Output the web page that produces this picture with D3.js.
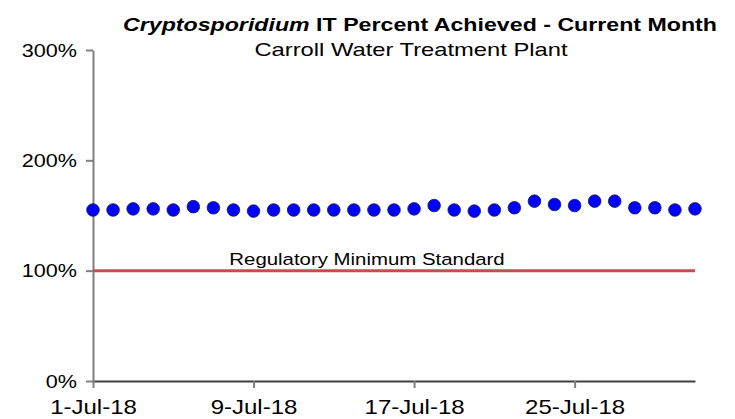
<!DOCTYPE html>
<html>
<head>
<meta charset="utf-8">
<script src="https://d3js.org/d3.v7.min.js"></script>
<style>
  body { margin: 0; background: #fff; }
  text { font-family: "Liberation Sans", Arial, sans-serif; }
</style>
</head>
<body>
<div id="chart"></div>
<script>
// daily values, July 2018
const days = d3.range(1, 32).map(d => new Date(2018, 6, d));
const percentAchieved = [155, 155, 156, 156, 155, 158, 157, 155, 154, 155,
                         155, 155, 155, 155, 155, 155, 156, 159, 155, 154,
                         155, 157, 163, 160, 159, 163, 163, 157, 157, 155, 156];
const regulatoryMin = 100;
const yTicks = [0, 100, 200, 300];
const xTickDays = [1, 9, 17, 25];

const width = 735;
const height = 419;
const margin = { top: 50, right: 40, bottom: 38, left: 93 };
const stretch = 1.2; // text in the original is drawn a bit wide

const svg = d3.select("#chart")
    .append("svg")
    .attr("width", width)
    .attr("height", height);

const x = d3.scaleTime()
    .domain([days[0], days[days.length - 1]])
    .range([margin.left, width - margin.right]);

const y = d3.scaleLinear()
    .domain([0, 300])
    .range([height - margin.bottom, margin.top]);

const fmt = d3.timeFormat("%-d-%b-%y");

// x axis
const xAxis = svg.append("g")
    .attr("transform", `translate(0,${y(0)})`)
    .call(d3.axisBottom(x)
        .tickValues(xTickDays.map(d => new Date(2018, 6, d)))
        .tickFormat(fmt)
        .tickSize(7)
        .tickSizeOuter(0));
xAxis.select(".domain").attr("stroke", "#404040").attr("stroke-width", 2);
xAxis.selectAll(".tick line").attr("stroke", "#808080").attr("stroke-width", 2);
xAxis.selectAll(".tick text")
    .attr("font-size", 20)
    .attr("fill", "#000")
    .attr("y", 33)
    .attr("dy", null)
    .attr("transform", `scale(${stretch},1)`);

// y axis
const yAxis = svg.append("g")
    .attr("transform", `translate(${margin.left},0)`)
    .call(d3.axisLeft(y)
        .tickValues(yTicks)
        .tickFormat(d => d + "%")
        .tickSize(7)
        .tickSizeOuter(0));
yAxis.select(".domain").attr("stroke", "#808080").attr("stroke-width", 2);
yAxis.selectAll(".tick line").attr("stroke", "#808080").attr("stroke-width", 2);
yAxis.selectAll(".tick text")
    .attr("font-size", 18)
    .attr("fill", "#000")
    .attr("x", -16 / stretch)
    .attr("dy", "0.34em")
    .attr("transform", `scale(${stretch},1)`);

// regulatory line
svg.append("line")
    .attr("x1", x(days[0]))
    .attr("x2", x(days[days.length - 1]))
    .attr("y1", y(regulatoryMin))
    .attr("y2", y(regulatoryMin))
    .attr("stroke", "#c0504d")
    .attr("stroke-width", 3);

svg.append("text")
    .attr("transform", `translate(367,${y(regulatoryMin) - 6}) scale(${stretch},1)`)
    .attr("text-anchor", "middle")
    .attr("font-size", 17)
    .text("Regulatory Minimum Standard");

// points
svg.selectAll(".pt")
    .data(percentAchieved)
    .enter().append("circle")
    .attr("class", "pt")
    .attr("cx", (d, i) => x(days[i]))
    .attr("cy", d => y(d))
    .attr("r", 6.3)
    .attr("fill", "#0000ff")
    .attr("stroke", "#1a1a4d")
    .attr("stroke-width", 0.8);

// titles
const title = svg.append("text")
    .attr("transform", `translate(420,31) scale(1.22,1)`)
    .attr("text-anchor", "middle")
    .attr("font-size", 19)
    .attr("font-weight", "bold");
title.append("tspan").attr("font-style", "italic").text("Cryptosporidium");
title.append("tspan").text(" IT  Percent Achieved - Current Month");

svg.append("text")
    .attr("transform", `translate(411,56) scale(1.25,1)`)
    .attr("text-anchor", "middle")
    .attr("font-size", 19)
    .text("Carroll Water Treatment  Plant");
</script>
</body>
</html>
